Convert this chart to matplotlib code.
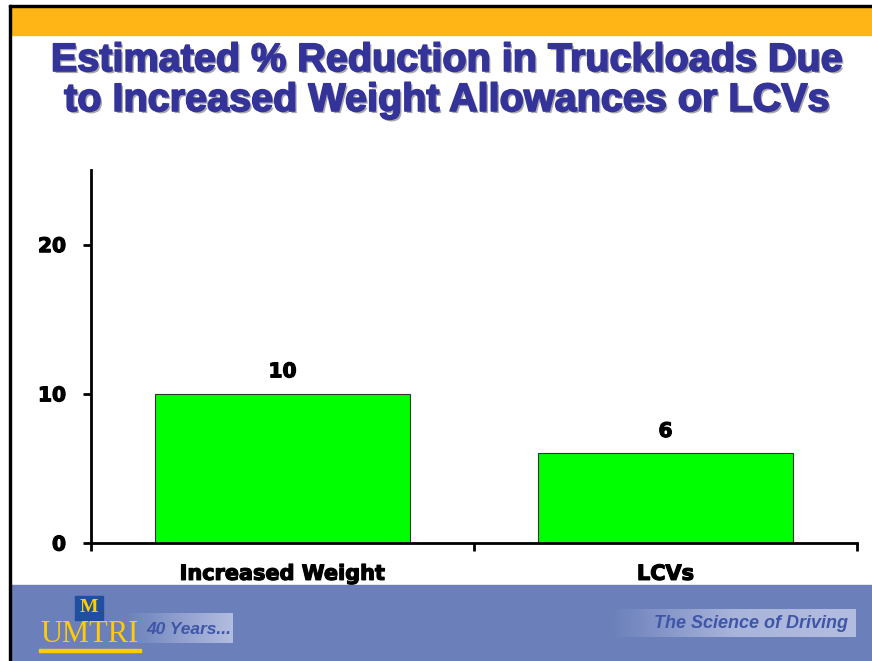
import matplotlib
matplotlib.use("Agg")
import matplotlib.pyplot as plt
import numpy as np
from matplotlib.patches import Rectangle
from matplotlib.colors import LinearSegmentedColormap
import matplotlib.patheffects as pe

categories = ["Increased Weight", "LCVs"]
values = [10, 6]
yticks = [0, 10, 20]

fig = plt.figure(figsize=(8.72, 6.61), dpi=100)
W, H = 872.0, 661.0

def fx(px):
    return px / W

def fy(py):
    return 1 - py / H

def rect(x0, y0, x1, y1, color, z=0):
    # pixel box (top-left origin) -> figure patch
    fig.patches.append(Rectangle((fx(x0), fy(y1)), (x1 - x0) / W, (y1 - y0) / H,
                                 transform=fig.transFigure, color=color, zorder=z))

# slide frame: orange band, footer band, black border on left and top
rect(11, 7, 872, 35, "#ffb515")
rect(11, 585, 872, 661, "#6b80bb")
rect(9, 5, 11, 661, "black", 1)
rect(9, 5, 872, 7, "black", 1)

# title
heavy = [pe.withSimplePatchShadow(offset=(1.5, -1.5), shadow_rgbFace="#a8a8a8", alpha=1),
         pe.withStroke(linewidth=1.2, foreground="#333399")]
for txt, yy in [("Estimated % Reduction in Truckloads Due", 60),
                ("to Increased Weight Allowances or LCVs", 100)]:
    fig.text(fx(447), fy(yy), txt, ha="center", va="center", fontsize=28.5,
             fontweight="bold", family="Liberation Sans", color="#333399",
             path_effects=heavy)

# axes
ax = fig.add_axes([fx(91), fy(543), fx(857) - fx(91), (543 - 170) / H])
x = np.arange(len(categories))
ax.bar(x, values, width=0.668, color="#00ff00", edgecolor="#333333", linewidth=0.8, zorder=2)
ax.set_xlim(-0.5, len(categories) - 0.5)
ax.set_ylim(0, 25)
bold = [pe.withStroke(linewidth=0.9, foreground="black")]
ax.set_yticks(yticks)
ax.set_yticklabels([str(t) for t in yticks], fontsize=14.5, fontweight="bold",
                   family="DejaVu Sans", path_effects=bold)
ax.set_xticks(x)
ax.set_xticklabels(categories, fontsize=15, fontweight="bold", family="DejaVu Sans",
                   path_effects=bold)
ax.tick_params(axis="x", length=0, pad=15)
ax.tick_params(axis="y", length=6, width=2, pad=12)
# category boundary ticks
ax.set_xticks([-0.5, 0.5, 1.5], minor=True)
ax.tick_params(axis="x", which="minor", length=6, width=2)
for s in ["top", "right"]:
    ax.spines[s].set_visible(False)
for s in ["left", "bottom"]:
    ax.spines[s].set_linewidth(2)
ax.patch.set_alpha(0)

for xi, v in zip(x, values):
    ax.annotate(str(v), (xi, v), xytext=(0, 9), textcoords="offset points",
                ha="center", va="bottom", fontsize=14.5, fontweight="bold",
                family="DejaVu Sans", path_effects=bold)

# footer logos
grad = np.linspace(0, 1, 256).reshape(1, -1)
cm = LinearSegmentedColormap.from_list("g", ["#6b80bb", "#b3bde0"])
gax1 = fig.add_axes([fx(125), fy(643), fx(232) - fx(125), 30 / H], zorder=2)
gax1.imshow(grad, aspect="auto", cmap=cm)
gax1.axis("off")
cm2 = LinearSegmentedColormap.from_list("g2", ["#6b80bb", "#a9b4da", "#b3bde0"])
gax2 = fig.add_axes([fx(612), fy(637), fx(856) - fx(612), 28 / H], zorder=2)
gax2.imshow(grad, aspect="auto", cmap=cm2)
gax2.axis("off")

rect(75, 596, 103, 620, "#1f4f9e", 3)
fig.text(fx(89), fy(608), "M", ha="center", va="center", fontsize=14, fontweight="bold",
         family="Liberation Serif", color="#ffcb05", zorder=4)
fig.text(fx(90), fy(634), "UMTRI", ha="center", va="center", fontsize=22,
         family="Liberation Serif", color="#ffcb05", zorder=5)
rect(39, 649, 141, 652, "#ffcb05", 3)
fig.text(fx(146), fy(629), "40 Years...", ha="left", va="center", fontsize=12.5,
         fontweight="bold", style="italic", family="Liberation Sans", color="#3f56a8", zorder=5)
fig.text(fx(848), fy(624), "The Science of Driving", ha="right", va="center", fontsize=13,
         fontweight="bold", style="italic", family="Liberation Sans", color="#3f56a8", zorder=5)

fig.savefig("out.png", dpi=100)
